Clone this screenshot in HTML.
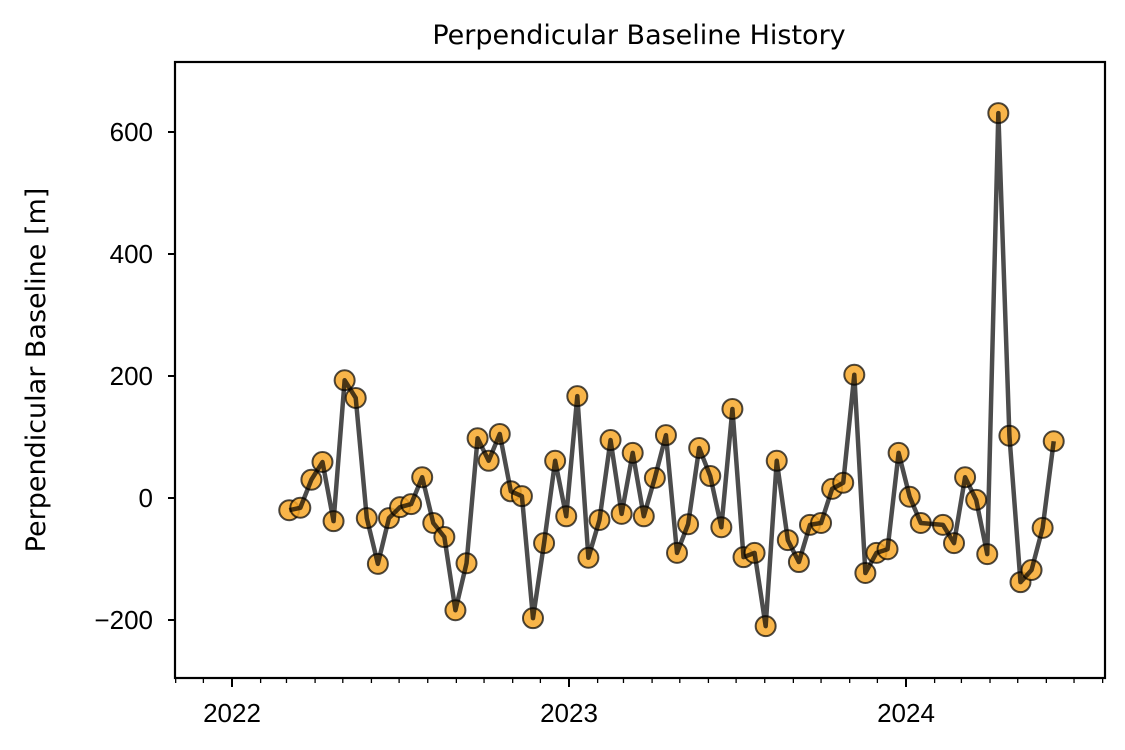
<!DOCTYPE html>
<html><head><meta charset="utf-8"><style>
html,body{margin:0;padding:0;background:#fff;}
svg{display:block;font-family:"Liberation Sans","DejaVu Sans",sans-serif;}
</style></head><body>
<svg id="chart" width="1125" height="750" viewBox="0 0 1125 750" xmlns="http://www.w3.org/2000/svg">
<text x="639" y="44" font-size="27" text-anchor="middle" font-family="DejaVu Sans, Liberation Sans, sans-serif">Perpendicular Baseline History</text>
<text transform="translate(45,370) rotate(-90)" font-size="27" text-anchor="middle" font-family="DejaVu Sans, Liberation Sans, sans-serif">Perpendicular Baseline [m]</text>
<g id="axes"></g>
<g id="marks"></g>
<rect x="175" y="62" width="930" height="616" fill="none" stroke="#000" stroke-width="2.2"/>
</svg>
<script>
const dates=["2022-03-04","2022-03-16","2022-03-28","2022-04-09","2022-04-21","2022-05-03","2022-05-15","2022-05-27","2022-06-08","2022-06-20","2022-07-02","2022-07-14","2022-07-26","2022-08-07","2022-08-19","2022-08-31","2022-09-12","2022-09-24","2022-10-06","2022-10-18","2022-10-30","2022-11-11","2022-11-23","2022-12-05","2022-12-17","2022-12-29","2023-01-10","2023-01-22","2023-02-03","2023-02-15","2023-02-27","2023-03-11","2023-03-23","2023-04-04","2023-04-16","2023-04-28","2023-05-10","2023-05-22","2023-06-03","2023-06-15","2023-06-27","2023-07-09","2023-07-21","2023-08-02","2023-08-14","2023-08-26","2023-09-07","2023-09-19","2023-10-01","2023-10-13","2023-10-25","2023-11-06","2023-11-18","2023-11-30","2023-12-12","2023-12-24","2024-01-05","2024-01-17","2024-02-10","2024-02-22","2024-03-05","2024-03-17","2024-03-29","2024-04-10","2024-04-22","2024-05-04","2024-05-16","2024-05-28","2024-06-09"];
const baselines=[-20,-16,30,59,-38,193,164,-33,-108,-33,-15,-10,34,-41,-64,-184,-107,98,61,105,11,3,-197,-74,61,-30,167,-98,-36,95,-26,74,-30,33,103,-90,-43,82,36,-48,146,-97,-90,-210,61,-69,-105,-44,-41,15,25,202,-123,-90,-84,74,2,-41,-44,-74,34,-3,-92,631,102,-138,-118,-49,93];
const yTicks=[-200,0,200,400,600];
const yearTicks=["2022","2023","2024"];

const NS="http://www.w3.org/2000/svg";
const t0=Date.UTC(2022,0,1), t1=Date.UTC(2024,0,1);
function x(d){const t=(typeof d==="number")?d:Date.parse(d+"T00:00:00Z");return 232+(t-t0)/(t1-t0)*(906-232);}
function y(v){return 498-v*0.61;}
function mk(tag,attrs,parent){const e=document.createElementNS(NS,tag);for(const k in attrs)e.setAttribute(k,attrs[k]);parent.appendChild(e);return e;}
const axes=document.getElementById('axes'), marks=document.getElementById('marks');

yTicks.forEach(v=>{
  const tk=mk('line',{x1:168,x2:175,y1:y(v),y2:y(v),stroke:'#000','stroke-width':2},axes);
  
  
  const lb=mk('text',{x:153,y:y(v)+9,'font-size':26,'text-anchor':'end'},axes);
  
  
  lb.textContent=(v<0?'\u2212'+(-v):String(v));
});
for(let yr=2021;yr<=2024;yr++){for(let m=0;m<12;m++){
  const px=x(Date.UTC(yr,m,1)); if(px<174||px>1106)continue;
  const major=(m===0);
  const tk=mk('line',{x1:px,x2:px,y1:678,y2:major?687:683,stroke:'#000','stroke-width':major?2:1.3},axes);
  
  
}}
yearTicks.forEach(s=>{
  const lb=mk('text',{x:x(s+"-01-01"),y:722,'font-size':26,'text-anchor':'middle'},axes);
  
  
  lb.textContent=s;
});
dates.forEach((d,i)=>{
  const c=mk('circle',{cx:x(d),cy:y(baselines[i]),r:10,fill:'#f7a82a','fill-opacity':0.85,stroke:'#000','stroke-opacity':0.7,'stroke-width':2},marks);
  
  
});
const pl=mk('polyline',{points:dates.map((d,i)=>x(d)+','+y(baselines[i])).join(' '),fill:'none',stroke:'#000','stroke-opacity':0.7,'stroke-width':4.5,'stroke-linejoin':'round'},marks);


</script>
</body></html>
